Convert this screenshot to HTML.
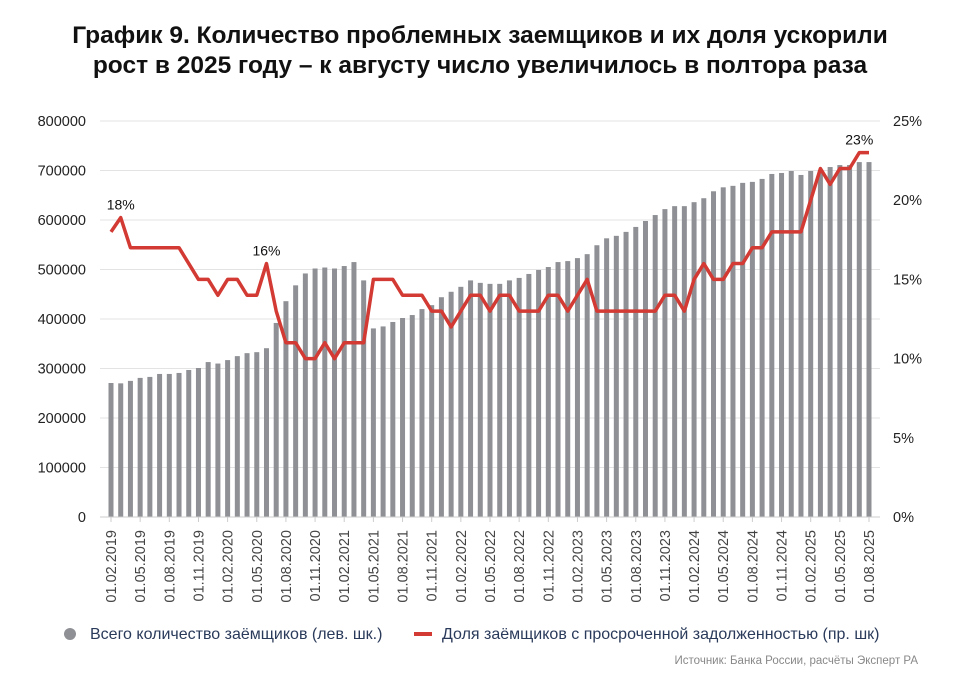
<!DOCTYPE html>
<html><head><meta charset="utf-8">
<style>
body{margin:0;background:#fff;font-family:"Liberation Sans",sans-serif;}
#wrap{position:relative;width:960px;height:687px;overflow:hidden;}
h1{position:absolute;top:21px;left:0;width:960px;margin:0;text-align:center;font-size:24.5px;line-height:30px;font-weight:bold;color:#111;}
</style></head>
<body>
<div id="wrap">
<h1>График 9. Количество проблемных заемщиков и их доля ускорили<br>рост в 2025 году – к августу число увеличилось в полтора раза</h1>
<svg id="chart" width="960" height="687" style="position:absolute;left:0;top:0"></svg>
</div>
<script>
const counts=[270700,270000,275000,281000,283000,289000,289000,291000,297000,301000,313000,310000,317000,325000,331000,333000,341000,392000,436000,468000,492000,502000,504000,502000,507000,515000,478000,381000,385000,394000,402000,408000,420000,428000,444000,455000,465000,478000,473000,471000,471000,478000,483000,491000,499000,505000,515000,517000,523000,531000,549000,563000,568000,576000,586000,598000,610000,622000,628000,628000,636000,644000,658000,666000,669000,675000,677000,683000,693000,695000,699000,691000,699000,701000,707000,711000,711000,717000,717000];
const shares=[18,18.9,17,17,17,17,17,17,16,15,15,14,15,15,14,14,16,13,11,11,10,10,11,10,11,11,11,15,15,15,14,14,14,13,13,12,13,14,14,13,14,14,13,13,13,14,14,13,14,15,13,13,13,13,13,13,13,14,14,13,15,16,15,15,16,16,17,17,18,18,18,18,20,22,21,22,22,23,23];
const leftTicks=[0,100000,200000,300000,400000,500000,600000,700000,800000];
const rightTicks=[0,5,10,15,20,25];
const annotations=[[1,"18%"],[16,"16%"],[77,"23%"]];
const months=["01","02","03","04","05","06","07","08","09","10","11","12"];
const NS="http://www.w3.org/2000/svg";
const svg=document.getElementById('chart');
const x0=111,x1=869,yb=517,yt=121;
const xS=i=>x0+i*(x1-x0)/(counts.length-1);
const yL=v=>yb-v/800000*(yb-yt);
const yR=v=>yb-v/25*(yb-yt);
function mk(t,a){const e=document.createElementNS(NS,t);for(const k in a)e.setAttribute(k,a[k]);svg.appendChild(e);return e;}
leftTicks.forEach(v=>{
 const g=mk('line',{x1:100,x2:880,y1:yL(v),y2:yL(v),stroke:'#e3e3e3','stroke-width':1});
 
 
 const t=mk('text',{x:86,y:yL(v)+5,'text-anchor':'end','font-size':14.5,fill:'#222'});t.textContent=v;
 
 
});
rightTicks.forEach(v=>{
 const t=mk('text',{x:893,y:yR(v)+5,'font-size':14.5,fill:'#222'});t.textContent=v+'%';
 
 
});
counts.forEach((v,i)=>{
 const r=mk('rect',{x:xS(i)-2.5,y:yL(v),width:5,height:yb-yL(v),fill:'#8e9095'});
 
 
});
const tk=mk('line',{x1:100,x2:880,y1:yb,y2:yb,stroke:'#ccc'});


for(let i=0;i<counts.length;i+=3){
 const m=(1+i)%12, y=2019+Math.floor((1+i)/12);
 const t=mk('text',{x:0,y:0,'font-size':14.5,fill:'#444','text-anchor':'end',transform:`translate(${xS(i)+5},530) rotate(-90)`});
 t.textContent='01.'+months[m]+'.'+y;
 
 
 const tm=mk('line',{x1:xS(i),x2:xS(i),y1:yb,y2:yb+5,stroke:'#ccc'});
 
 
}
const p=mk('polyline',{points:shares.map((v,i)=>xS(i)+','+yR(v)).join(' '),fill:'none',stroke:'#d23a33','stroke-width':3.5,'stroke-linejoin':'round'});


annotations.forEach(([i,s])=>{
 const t=mk('text',{x:xS(i),y:yR(shares[i])-8,'text-anchor':'middle','font-size':14,fill:'#111'});t.textContent=s;
 
 
});
const lc=mk('circle',{cx:70,cy:634,r:6,fill:'#8e9095'});


const l1=mk('text',{x:90,y:639,'font-size':16,fill:'#2a3a5a'});l1.textContent='Всего количество заёмщиков (лев. шк.)';


const ll=mk('line',{x1:414,x2:432,y1:634,y2:634,stroke:'#d23a33','stroke-width':4});


const l2=mk('text',{x:442,y:639,'font-size':16,fill:'#2a3a5a'});l2.textContent='Доля заёмщиков с просроченной задолженностью (пр. шк)';


const src=mk('text',{x:918,y:664,'text-anchor':'end','font-size':11.5,fill:'#888'});src.textContent='Источник: Банка России, расчёты Эксперт РА';


</script>
</body></html>
